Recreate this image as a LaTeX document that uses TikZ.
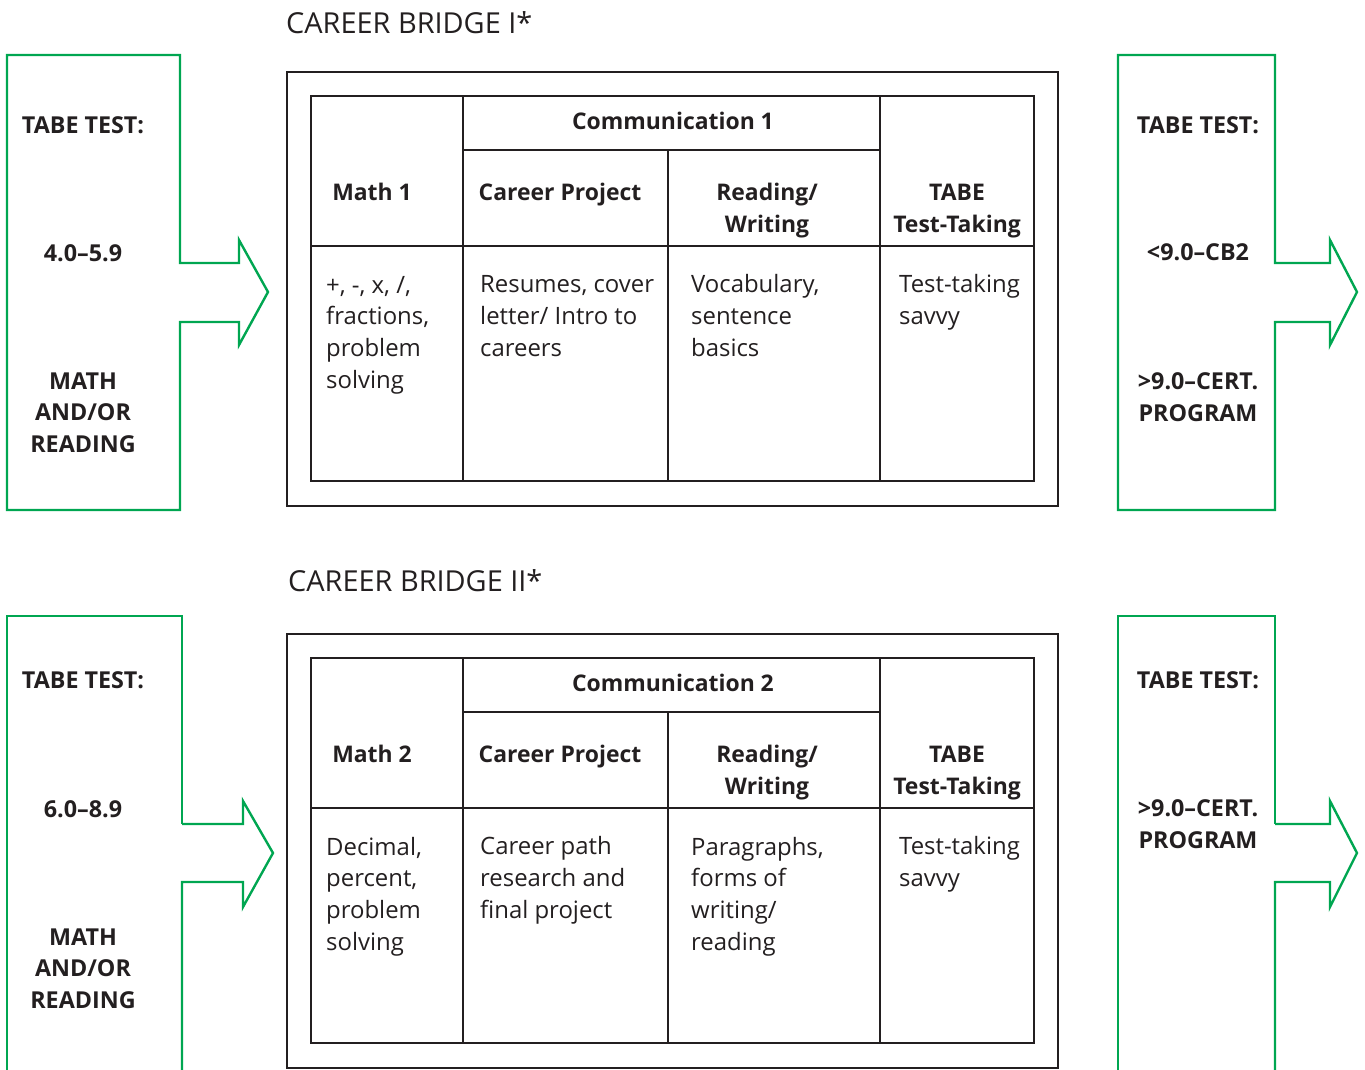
\documentclass[tikz,border=0pt]{standalone}
\usepackage{fontspec}
\setmainfont{Open Sans}
\definecolor{cbgreen}{RGB}{0,166,81}
\definecolor{ink}{RGB}{35,31,32}
\tikzset{
  frame/.style={draw=ink, line width=2.4bp},
  cell/.style={draw=ink, line width=1.2bp},
  rule/.style={draw=ink, line width=2.6bp},
  greenbox/.style={draw=cbgreen, line width=2.4bp, line join=miter},
  title/.style={anchor=base west, inner sep=0pt, text=ink, font=\fontsize{29}{34}\selectfont},
  head/.style={anchor=base, inner sep=0pt, align=center, text=ink, font=\bfseries\fontsize{23}{32}\selectfont},
  body/.style={anchor=base west, inner sep=0pt, align=left, text=ink, font=\fontsize{24}{31.7}\selectfont},
  side/.style={anchor=base, inner sep=0pt, align=center, text=ink, font=\bfseries\fontsize{23.4}{31.5}\selectfont}
}
\begin{document}
\begin{tikzpicture}[x=1bp,y=-1bp]
\useasboundingbox (0,0) rectangle (1365,1069);
\foreach \dy in {0,562}{
  \draw[frame] (287,72+\dy) rectangle (1058,506+\dy);
  \draw[cell] (311,96+\dy) rectangle (1034,481+\dy);
  \draw[cell] (463,96+\dy) -- (463,481+\dy);
  \draw[cell] (668,150+\dy) -- (668,481+\dy);
  \draw[cell] (880,96+\dy) -- (880,481+\dy);
  \draw[cell] (463,150+\dy) -- (880,150+\dy);
  \draw[rule] (311,246+\dy) -- (1034,246+\dy);
}
% career bridge I
\draw[greenbox] (180,263) -- (180,55) -- (7,55) -- (7,510) -- (180,510) -- (180,322)
  -- (239,322) -- (239,345) -- (268,292) -- (239,240) -- (239,263) -- cycle;
\draw[greenbox] (1275,263) -- (1275,55) -- (1118,55) -- (1118,510) -- (1275,510) -- (1275,322)
  -- (1330,322) -- (1330,345) -- (1357,292) -- (1330,240) -- (1330,263) -- cycle;
\node[title] (cb1) at (286,33) {CAREER BRIDGE I*};
\node[head] (comm1) at (673,129) {Communication 1};
\node[head] (math1) at (372,200) {Math 1};
\node[head] (proj1) at (560,200) {Career Project};
\node[head] (rw1) at (767,232) {Reading/\\Writing};
\node[head] (tabe1) at (957,232) {TABE\\Test-Taking};
\node[body] (math1txt) at (326,388) {+, -, x, /,\\fractions,\\problem\\solving};
\node[body] (proj1txt) at (480,356) {Resumes, cover\\letter/ Intro to\\careers};
\node[body] (rw1txt) at (691,356) {Vocabulary,\\sentence\\basics};
\node[body] (tabe1txt) at (899,324) {Test-taking\\savvy};
\node[side] (in1a) at (83,133) {TABE TEST:};
\node[side] (in1b) at (83,261) {4.0--5.9};
\node[side] (in1c) at (83,452) {MATH\\AND/OR\\READING};
\node[side] (out1a) at (1198,133) {TABE TEST:};
\node[side] (out1b) at (1198,260) {<9.0--CB2};
\node[side] (out1c) at (1198,421) {>9.0--CERT.\\PROGRAM};
% career bridge II
\draw[greenbox] (182,824) -- (182,616) -- (7,616) -- (7,1075);
\draw[greenbox] (182,1075) -- (182,882) -- (243,882) -- (243,907) -- (273,853)
  -- (243,801) -- (243,824) -- (182,824);
\draw[greenbox] (1275,824) -- (1275,616) -- (1118,616) -- (1118,1075);
\draw[greenbox] (1275,1075) -- (1275,882) -- (1330,882) -- (1330,907) -- (1357,853)
  -- (1330,801) -- (1330,824) -- (1275,824);
\node[title] (cb2) at (288,591) {CAREER BRIDGE II*};
\node[head] (comm2) at (673,691) {Communication 2};
\node[head] (math2) at (372,762) {Math 2};
\node[head] (proj2) at (560,762) {Career Project};
\node[head] (rw2) at (767,794) {Reading/\\Writing};
\node[head] (tabe2) at (957,794) {TABE\\Test-Taking};
\node[body] (math2txt) at (326,950) {Decimal,\\percent,\\problem\\solving};
\node[body] (proj2txt) at (480,918) {Career path\\research and\\final project};
\node[body] (rw2txt) at (691,950) {Paragraphs,\\forms of\\writing/\\reading};
\node[body] (tabe2txt) at (899,886) {Test-taking\\savvy};
\node[side] (in2a) at (83,688) {TABE TEST:};
\node[side] (in2b) at (83,817) {6.0--8.9};
\node[side] (in2c) at (83,1008) {MATH\\AND/OR\\READING};
\node[side] (out2a) at (1198,688) {TABE TEST:};
\node[side] (out2b) at (1198,848) {>9.0--CERT.\\PROGRAM};
\end{tikzpicture}
\end{document}
